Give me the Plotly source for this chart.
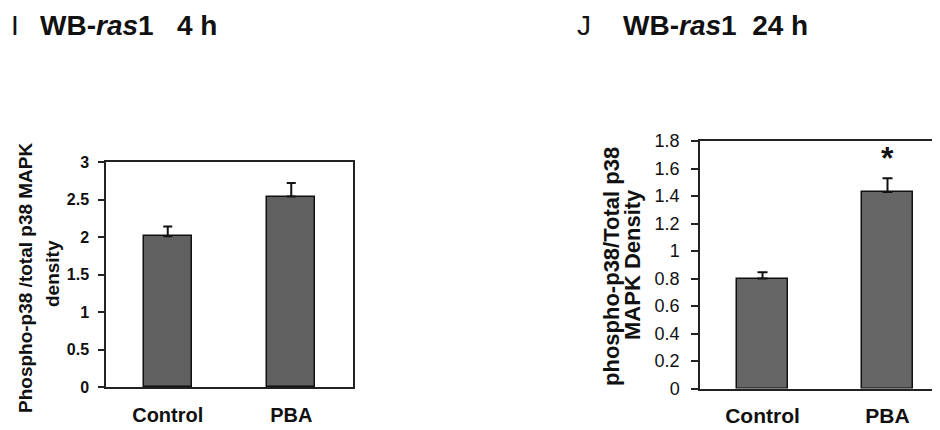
import plotly.graph_objects as go

categories = ["Control", "PBA"]

# Panel I: WB-ras1 4 h
i_values = [2.01, 2.54]
i_errors = [0.13, 0.18]
i_ticks = [0, 0.5, 1, 1.5, 2, 2.5, 3]
i_ticktext = ["0", "0.5", "1", "1.5", "2", "2.5", "3"]

# Panel J: WB-ras1 24 h
j_values = [0.80, 1.43]
j_errors = [0.045, 0.10]
j_ticks = [0, 0.2, 0.4, 0.6, 0.8, 1.0, 1.2, 1.4, 1.6, 1.8]
j_ticktext = ["0", "0.2", "0.4", "0.6", "0.8", "1", "1.2", "1.4", "1.6", "1.8"]
j_star_y = 1.68

FONT = "Liberation Sans, Arial, sans-serif"
# page body has an 8px margin; figure sized to fit the 940x430 window
OFF = 8
W, H = 940 - OFF, 430 - OFF

def px_x(p):
    return (p - OFF) / W

def px_y(p):
    return 1 - (p - OFF) / H

fig = go.Figure()

fig.add_trace(go.Bar(
    x=[0, 1], y=i_values, width=0.39,
    marker=dict(color="#5f605f", line=dict(color="#111111", width=1.5)),
    error_y=dict(type="data", array=i_errors, arrayminus=[0, 0], symmetric=False,
                 color="#111111", thickness=2, width=4.5),
    xaxis="x", yaxis="y", showlegend=False,
))

fig.add_trace(go.Bar(
    x=[0, 1], y=j_values, width=0.41,
    marker=dict(color="#666666", line=dict(color="#111111", width=1.5)),
    error_y=dict(type="data", array=j_errors, arrayminus=[0, 0], symmetric=False,
                 color="#111111", thickness=2, width=5),
    xaxis="x2", yaxis="y2", showlegend=False,
))

axis_line = dict(showline=True, linecolor="#222222", linewidth=1.5, showgrid=False,
                 zeroline=False, automargin=False)

fig.update_layout(
    width=W, height=H,
    margin=dict(l=0, r=0, t=0, b=0),
    paper_bgcolor="white", plot_bgcolor="white",
    bargap=0,
    xaxis=dict(domain=[px_x(106), px_x(353)], range=[-0.5, 1.5],
               tickvals=[0, 1], ticktext=categories, ticks="",
               tickfont=dict(family=FONT, size=20, color="#111111", weight="bold"),
               ticklabelstandoff=9, mirror=True, **axis_line),
    yaxis=dict(domain=[px_y(387), px_y(162)], range=[0, 3],
               tickvals=i_ticks, ticktext=i_ticktext, ticks="outside", ticklen=6,
               tickcolor="#222222", tickwidth=1.5,
               tickfont=dict(family=FONT, size=16, color="#111111", weight="bold"),
               ticklabelstandoff=6, mirror=True, anchor="x", **axis_line),
    xaxis2=dict(domain=[px_x(700), 1.0], range=[-0.5, 1.42],
                tickvals=[0, 1], ticktext=categories, ticks="",
                tickfont=dict(family=FONT, size=21, color="#111111", weight="bold"),
                ticklabelstandoff=8, mirror=True, anchor="y2", **axis_line),
    yaxis2=dict(domain=[px_y(388.5), px_y(141)], range=[0, 1.8],
                tickvals=j_ticks, ticktext=j_ticktext, ticks="outside", ticklen=7,
                tickcolor="#222222", tickwidth=1.5,
                tickfont=dict(family=FONT, size=18, color="#111111"),
                ticklabelstandoff=8, anchor="x2", **axis_line),
)

annotations = [
    # panel letters and titles
    dict(x=px_x(9), y=1, text="I", xanchor="left", yanchor="top",
         font=dict(family=FONT, size=28, color="#111111")),
    dict(x=px_x(38), y=1, text="<b>WB-<i>ras</i>1\u00a0\u00a0 4 h</b>",
         xanchor="left", yanchor="top", font=dict(family=FONT, size=28, color="#111111")),
    dict(x=px_x(575), y=1, text="J", xanchor="left", yanchor="top",
         font=dict(family=FONT, size=28, color="#111111")),
    dict(x=px_x(621), y=1, text="<b>WB-<i>ras</i>1\u00a0 24 h</b>",
         xanchor="left", yanchor="top", font=dict(family=FONT, size=28, color="#111111")),
    # y axis titles (two lines each)
    dict(x=px_x(25), y=px_y(278), text="<b>Phospho-p38 /total p38 MAPK</b>", textangle=-90,
         xanchor="center", yanchor="middle", font=dict(family=FONT, size=19, color="#111111")),
    dict(x=px_x(52), y=px_y(274), text="<b>density</b>", textangle=-90,
         xanchor="center", yanchor="middle", font=dict(family=FONT, size=19, color="#111111")),
    dict(x=px_x(611), y=px_y(267), text="<b>phospho-p38/Total p38</b>", textangle=-90,
         xanchor="center", yanchor="middle", font=dict(family=FONT, size=22, color="#111111")),
    dict(x=px_x(632), y=px_y(265), text="<b>MAPK Density</b>", textangle=-90,
         xanchor="center", yanchor="middle", font=dict(family=FONT, size=22, color="#111111")),
]
for a in annotations:
    a.update(xref="paper", yref="paper", showarrow=False)

annotations.append(dict(x=1, y=j_star_y, xref="x2", yref="y2", text="<b>*</b>",
                        showarrow=False, xanchor="center", yanchor="middle",
                        font=dict(family=FONT, size=32, color="#111111")))

fig.update_layout(annotations=annotations)

fig.write_html("out.html")
